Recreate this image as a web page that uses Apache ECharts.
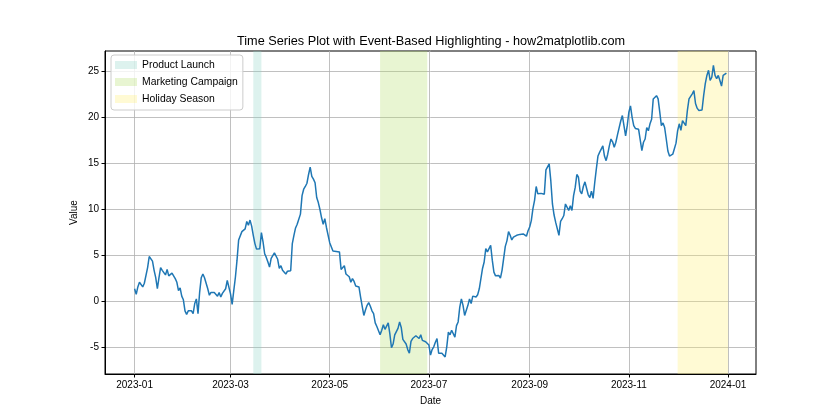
<!DOCTYPE html>
<html>
<head>
<meta charset="utf-8">
<title>Time Series Plot with Event-Based Highlighting</title>
<script src="https://cdn.jsdelivr.net/npm/echarts@6/dist/echarts.min.js"></script>
<style>
  html, body { margin: 0; padding: 0; background: #fff; }
  #chart { width: 840px; height: 420px; }
</style>
</head>
<body>
<div id="chart"></div>
<script>
// daily values from 2023-01-01
var startDay = '2023-01-01';
var values = [
  1.4, 0.8, 1.6, 2.1, 1.9, 1.6, 2.0, 2.1, 3.7, 4.9,
  4.9, 4.4, 3.4, 2.6, 1.4, 2.6, 3.7, 3.4, 3.2, 2.9,
  3.5, 2.8, 2.9, 3.1, 3.2, 2.5, 2.1, 1.2, 1.5, 0.6,
  0.2, -1.0, -1.4, -1.0, -0.9, -1.0, -1.3, -0.2, 0.3, -1.3,
  1.0, 2.6, 3.0, 2.6, 2.0, 1.4, 0.7, 1.0, 1.1, 1.0,
  0.8, 0.6, 1.0, 0.5, 0.9, 0.85, 1.4, 2.3, 2.2, 0.85,
  -0.3, 1.2, 2.65, 4.5, 6.7, 6.75, 7.6, 7.7, 7.9, 8.7,
  8.3, 8.85, 8.2, 7.2, 6.3, 5.7, 5.6, 5.75, 7.5, 6.5,
  5.2, 4.8, 4.3, 3.75, 4.7, 5.0, 5.3, 5.5, 4.6, 3.6,
  3.9, 3.4, 3.6, 3.0, 3.3, 3.2, 3.35, 6.3, 7.2, 8.0,
  8.4, 8.2, 9.5, 11.5, 12.2, 12.5, 12.85, 13.8, 14.6, 13.6,
  13.3, 12.9, 11.3, 10.75, 10.0, 9.1, 8.4, 9.0, 8.05, 8.1,
  6.4, 6.25, 5.5, 5.4, 5.45, 5.45, 5.4, 3.5, 3.7, 3.9,
  3.0, 3.2, 2.7, 2.1, 2.5, 2.2, 1.7, 1.6, 1.6, 0.5,
  -0.5, -1.5, -0.9, -0.4, -0.1, -0.5, -1.0, -1.3, -2.3, -2.7,
  -2.9, -3.6, -3.1, -2.5, -3.0, -2.9, -2.3, -3.5, -5.0, -4.6,
  -3.6, -3.4, -2.9, -2.2, -2.8, -4.1, -4.3, -4.6, -5.2, -5.6,
  -4.3, -4.0, -3.8, -3.7, -3.5, -4.0, -3.6, -4.2, -4.0, -4.35,
  -4.3, -4.7, -5.8, -5.2, -4.9, -4.4, -4.0, -5.6, -5.6, -5.6,
  -5.7, -6.0, -4.9, -3.3, -3.6, -3.1, -3.1, -3.85, -2.6, -2.2,
  -0.6, 0.3, -0.4, -1.5, -1.65, -0.4, 0.3, -0.2, 0.6, 0.4,
  0.5, 0.75, 1.4, 1.4, 3.6, 4.3, 5.75, 5.4, 5.75, 6.1,
  4.5, 3.2, 2.8, 2.8, 2.85, 2.55, 3.4, 3.6, 6.0, 6.6,
  7.6, 7.2, 6.7, 7.0, 6.9, 7.2, 7.2, 7.3, 7.2, 7.35,
  7.3, 7.1, 7.7, 8.1, 8.8, 10.1, 11.0, 12.5, 11.7, 11.85,
  11.75, 11.85, 11.65, 14.3, 14.35, 14.95, 13.1, 10.6, 9.4, 8.6,
  8.8, 7.2, 8.7, 9.0, 9.35, 10.6, 10.4, 9.9, 10.4, 9.9,
  11.5, 12.4, 13.8, 13.5, 12.0, 11.7, 12.5, 13.0, 12.8, 11.6,
  11.3, 12.0, 11.2, 12.9, 14.4, 15.8, 16.2, 16.1, 16.9, 15.8,
  15.3, 16.0, 16.9, 17.65, 17.35, 16.75, 17.3, 18.1, 18.0, 19.6,
  20.2, 20.25, 18.0, 19.1, 20.55, 21.25, 20.0, 19.1, 18.8, 18.8,
  18.7, 18.55, 16.4, 17.3, 17.65, 18.9, 18.55, 19.3, 19.8, 22.0,
  22.2, 22.35, 22.0, 20.6, 19.1, 19.4, 18.9, 17.65, 16.35, 15.8,
  15.75, 16.0, 16.6, 17.2, 18.55, 19.3, 18.6, 19.65, 19.8, 19.1,
  20.75, 22.0, 22.1, 22.55, 22.9, 21.5, 21.0, 20.75, 20.8, 20.8,
  22.35, 23.65, 24.55, 25.1, 24.0, 24.35, 25.65, 24.55, 24.2, 24.55,
  24.0, 23.4, 24.55, 24.35, 24.8
];

// highlighted events
var eventNames = ['Product Launch', 'Marketing Campaign', 'Holiday Season'];
var eventStarts = ['2023-03-15', '2023-06-01', '2023-12-01'];
var eventEnds = ['2023-03-20', '2023-06-30', '2024-01-01'];
var eventColors = ['rgba(141,211,199,0.3)', 'rgba(179,222,105,0.3)', 'rgba(255,237,111,0.3)'];

// axis ticks
var xTicks = ['2023-01-01', '2023-03-01', '2023-05-01', '2023-07-01', '2023-09-01', '2023-11-01', '2024-01-01'];
var yTicks = [-5, 0, 5, 10, 15, 20, 25];

var FONT = 'Liberation Sans';
var DAY = 864e5;

// 'YYYY-MM-DD' -> local timestamp
function toTime (s) {
    var p = s.split('-');
    return new Date(+p[0], +p[1] - 1, +p[2]).getTime();
}
function pad2 (n) { return n < 10 ? '0' + n : '' + n; }

var t0 = toTime(startDay);
var lineData = [];
for (var i = 0; i < values.length; i++) {
    lineData.push([t0 + i * DAY, values[i]]);
}
var tLast = t0 + (values.length - 1) * DAY;
// matplotlib style 5% margins
var xPad = (tLast - t0) * 0.05;
var xTickTimes = xTicks.map(toTime);

var series = [];
for (var k = 0; k < eventNames.length; k++) {
    series.push({
        name: eventNames[k],
        type: 'line',
        data: [],
        itemStyle: { color: eventColors[k] },
        lineStyle: { color: eventColors[k] },
        z: 1,
        markArea: {
            silent: true,
            itemStyle: { color: eventColors[k], borderWidth: 0 },
            data: [[{ xAxis: toTime(eventStarts[k]) }, { xAxis: toTime(eventEnds[k]) }]]
        }
    });
}
series.push({
    name: 'Value',
    type: 'line',
    data: lineData,
    showSymbol: false,
    symbol: 'none',
    z: 5,
    lineStyle: { color: '#1f77b4', width: 1.5 },
    itemStyle: { color: '#1f77b4' }
});

var myChart = echarts.init(document.getElementById('chart'));
var option = {
    animation: false,
    backgroundColor: '#fff',
    title: {
        text: 'Time Series Plot with Event-Based Highlighting - how2matplotlib.com',
        left: 431,
        top: 35,
        textAlign: 'center',
        padding: 0,
        textStyle: { fontFamily: FONT, fontSize: 12.7, fontWeight: 'normal', color: '#000' }
    },
    legend: {
        data: eventNames,
        orient: 'vertical',
        left: 111,
        top: 55,
        icon: 'rect',
        itemWidth: 22,
        itemHeight: 8,
        itemGap: 5,
        padding: [4, 5, 5, 4],
        borderColor: '#cccccc',
        borderWidth: 1,
        borderRadius: 3,
        backgroundColor: 'rgba(255,255,255,0.8)',
        selectedMode: false,
        textStyle: { fontFamily: FONT, fontSize: 10.4, color: '#000', lineHeight: 12 }
    },
    grid: {
        left: 105,
        right: 84,
        top: 51,
        bottom: 46,
        show: true,
        borderColor: '#000',
        borderWidth: 1,
        backgroundColor: 'transparent'
    },
    xAxis: {
        type: 'value',
        min: t0 - xPad,
        max: tLast + xPad,
        name: 'Date',
        nameLocation: 'middle',
        nameGap: 22,
        nameTextStyle: { fontFamily: FONT, fontSize: 10, color: '#000' },
        axisLine: { show: true, onZero: false, lineStyle: { color: '#000', width: 1 } },
        axisTick: { show: true, length: 3.5, lineStyle: { color: '#000' }, customValues: xTickTimes },
        axisLabel: {
            customValues: xTickTimes,
            margin: 6,
            fontFamily: FONT,
            fontSize: 10,
            color: '#000',
            formatter: function (v) {
                var d = new Date(v);
                return d.getFullYear() + '-' + pad2(d.getMonth() + 1);
            }
        },
        splitLine: { show: true, lineStyle: { color: '#b0b0b0', width: 0.8 } }
    },
    yAxis: {
        type: 'value',
        min: -7.85,
        max: 27.2,
        name: 'Value',
        nameLocation: 'middle',
        nameGap: 26,
        nameMoveOverlap: false,
        nameTextStyle: { fontFamily: FONT, fontSize: 10, color: '#000' },
        axisLine: { show: true, lineStyle: { color: '#000', width: 1 } },
        axisTick: { show: true, length: 3.5, lineStyle: { color: '#000' }, customValues: yTicks },
        axisLabel: { customValues: yTicks, margin: 6, fontFamily: FONT, fontSize: 10, color: '#000' },
        splitLine: { show: true, lineStyle: { color: '#b0b0b0', width: 0.8 } }
    },
    series: series
};
myChart.setOption(option);
</script>
</body>
</html>
